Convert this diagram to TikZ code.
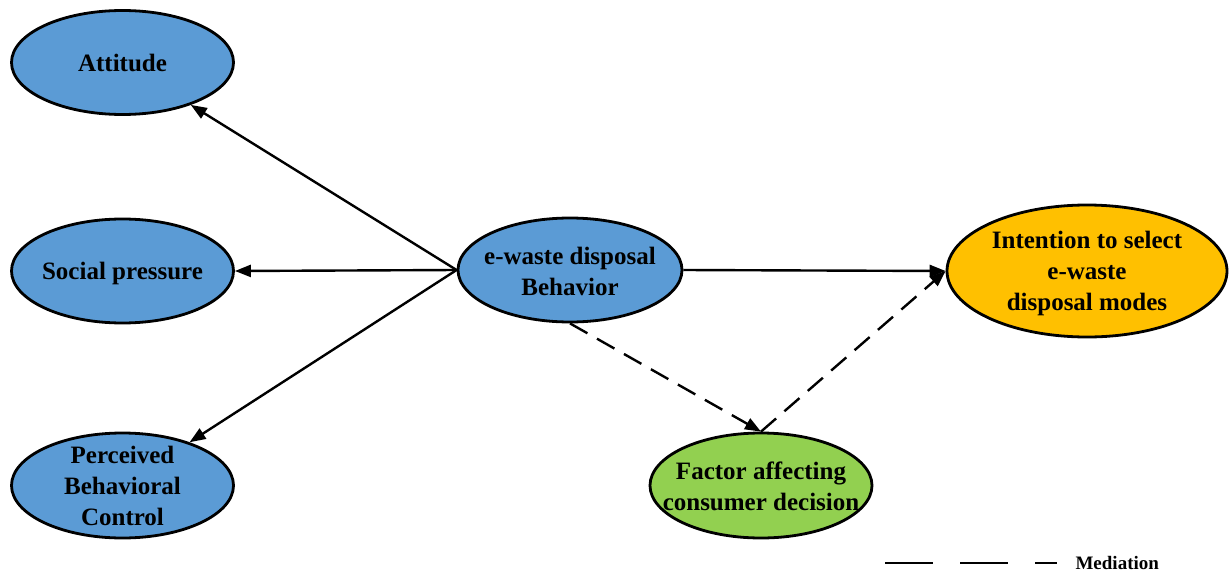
\documentclass[tikz,border=0pt]{standalone}
\usepackage{fontspec}
\setmainfont{Liberation Serif}
\usetikzlibrary{arrows.meta,shapes.geometric}
\definecolor{nodeblue}{HTML}{5B9BD5}
\definecolor{nodeorange}{HTML}{FFC000}
\definecolor{nodegreen}{HTML}{92D050}
\tikzset{
  oval/.style={ellipse, draw=black, line width=2.8pt, inner sep=0pt},
  ovaltext/.style={align=center, inner sep=0pt, font=\fontsize{25}{31}\selectfont\bfseries},
  link/.style={line width=2.4pt, -{Triangle[length=16pt,width=12pt]}},
  medlink/.style={link, dash pattern=on 20pt off 11pt},
}
\begin{document}
\begin{tikzpicture}[x=1pt,y=-1pt]
  \useasboundingbox (0,0) rectangle (1230,575);
  % construct ovals
  \node[oval, fill=nodeblue, minimum width=222pt, minimum height=104pt] (att) at (122.5,62.5) {};
  \node[oval, fill=nodeblue, minimum width=222pt, minimum height=104pt] (soc) at (122.5,271) {};
  \node[oval, fill=nodeblue, minimum width=222pt, minimum height=105pt] (pbc) at (122.5,485.5) {};
  \node[oval, fill=nodeblue, minimum width=224pt, minimum height=104pt] (ewb) at (570,270) {};
  \node[oval, fill=nodeorange, minimum width=280pt, minimum height=132pt] (int) at (1087,271) {};
  \node[oval, fill=nodegreen, minimum width=222pt, minimum height=105pt] (fac) at (761,485.5) {};
  % construct labels
  \node[ovaltext] (attT) at (att.center) {Attitude};
  \node[ovaltext] (socT) at ([yshift=-2pt]soc.center) {Social pressure};
  \node[ovaltext] (pbcT) at (pbc.center) {Perceived\\Behavioral\\Control};
  \node[ovaltext] (ewbT) at ([yshift=-1.5pt]ewb.center) {e-waste disposal\\Behavior};
  \node[ovaltext] (intT) at ([yshift=-2pt]int.center) {Intention to select\\e-waste\\disposal modes};
  \node[ovaltext] (facT) at ([yshift=-1pt]fac.center) {Factor affecting\\consumer decision};
  % direct paths
  \draw[link] (ewb.west) -- (att);
  \draw[link] (ewb.west) -- (soc.east);
  \draw[link] (ewb.west) -- (pbc);
  \draw[link] (ewb.east) -- (int.west);
  % mediation paths
  \draw[medlink] (ewb.south) -- (fac.north);
  \draw[medlink] (fac.north) -- (int.west);
  % legend
  \coordinate (legA) at (885,563);
  \coordinate (legB) at (1057,563);
  \draw[line width=2.4pt, dash pattern=on 48pt off 27pt] (legA) -- (legB);
  \node[font=\fontsize{19}{22}\selectfont\bfseries, anchor=west] (legT) at (1072,563) {Mediation};
\end{tikzpicture}
\end{document}
